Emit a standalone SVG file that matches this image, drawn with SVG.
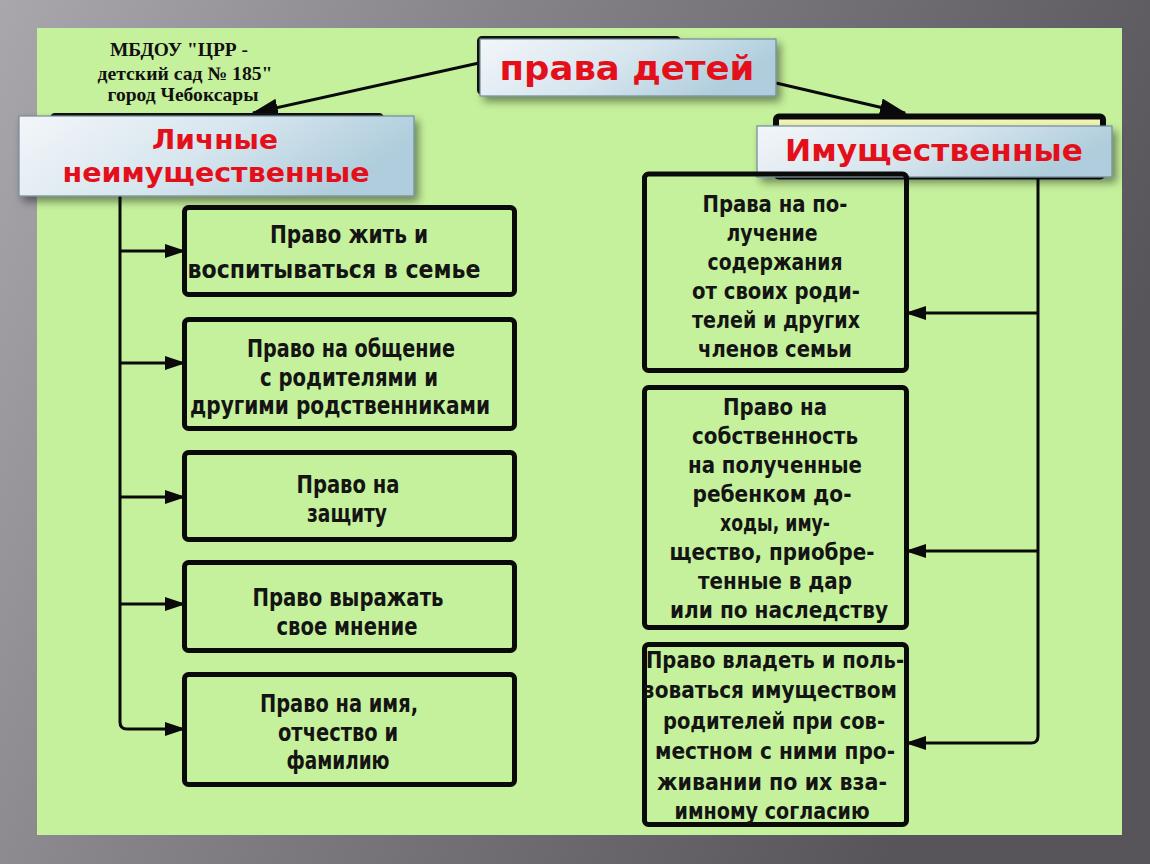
<svg xmlns="http://www.w3.org/2000/svg" width="1150" height="864" viewBox="0 0 1150 864">
<defs>
  <linearGradient id="bg" x1="0" y1="0" x2="1" y2="0.35">
    <stop offset="0" stop-color="#a9a7ac"/>
    <stop offset="0.4" stop-color="#858288"/>
    <stop offset="1" stop-color="#58555a"/>
  </linearGradient>
  <linearGradient id="hdr" x1="0" y1="0" x2="1" y2="0.3">
    <stop offset="0" stop-color="#f3f6f9"/>
    <stop offset="0.55" stop-color="#d6e5ee"/>
    <stop offset="1" stop-color="#afcddc"/>
  </linearGradient>
  <filter id="sh" x="-10%" y="-20%" width="125%" height="160%">
    <feDropShadow dx="4" dy="5" stdDeviation="4" flood-color="#000" flood-opacity="0.45"/>
  </filter>
  <marker id="ar" markerUnits="userSpaceOnUse" markerWidth="22" markerHeight="14" refX="17" refY="7" orient="auto">
    <path d="M0,0 L21,7 L0,14 z" fill="#0a0a0a"/>
  </marker>
  <marker id="arL" markerUnits="userSpaceOnUse" markerWidth="28" markerHeight="18" refX="25" refY="9" orient="auto">
    <path d="M0,0 L27,9 L0,18 z" fill="#0a0a0a"/>
  </marker>
  <style>
    .box { fill: none; stroke: #0a0a0a; stroke-width: 5; }
    .ln { fill: none; stroke: #0a0a0a; stroke-width: 3; }
    .hb { fill: url(#hdr); stroke: #6e8b9b; stroke-width: 1.2; filter: url(#sh); }
    .red { fill: #e3101b; font-family: "DejaVu Sans", "Liberation Sans", sans-serif; font-weight: bold; text-anchor: middle; }
    .tl { font-family: "DejaVu Sans Condensed", "DejaVu Sans", sans-serif; font-stretch: condensed; font-weight: bold; fill: #141414; text-anchor: middle; }
    .L { font-size: 24px; }
    .R { font-size: 23px; }
    .org { font-family: "Liberation Serif", serif; font-weight: bold; font-size: 19px; fill: #111; text-anchor: middle; }
  </style>
</defs>

<rect x="0" y="0" width="1150" height="864" fill="url(#bg)"/>
<rect x="37" y="28" width="1085" height="807" fill="#c6f19c"/>

<g id="org">
  <text class="org" x="179" y="56" textLength="138" lengthAdjust="spacingAndGlyphs">МБДОУ "ЦРР -</text>
  <text class="org" x="185" y="80" textLength="175" lengthAdjust="spacingAndGlyphs">детский сад № 185"</text>
  <text class="org" x="183" y="101" textLength="151" lengthAdjust="spacingAndGlyphs">город Чебоксары</text>
</g>

<g id="connectors">
  <path class="ln" d="M479,63 L253,113" marker-end="url(#arL)"/>
  <path class="ln" d="M776,83 L905,113" marker-end="url(#arL)"/>
  <path class="ln" d="M120,196 V722 Q120,729 127,729 H182" marker-end="url(#ar)"/>
  <path class="ln" d="M120,251 H182" marker-end="url(#ar)"/>
  <path class="ln" d="M120,363 H182" marker-end="url(#ar)"/>
  <path class="ln" d="M120,497 H182" marker-end="url(#ar)"/>
  <path class="ln" d="M120,604 H182" marker-end="url(#ar)"/>
  <path class="ln" d="M1038,176 V736 Q1038,743 1031,743 H909" marker-end="url(#ar)"/>
  <path class="ln" d="M1038,313 H909" marker-end="url(#ar)"/>
  <path class="ln" d="M1038,551 H909" marker-end="url(#ar)"/>
</g>

<g id="root">
  <rect x="479" y="38" width="200" height="55" rx="3" fill="#c6f19c" stroke="#111" stroke-width="4"/>
  <rect class="hb" x="480" y="39" width="296" height="57"/>
  <text class="red" x="627" y="80" font-size="34" textLength="255" lengthAdjust="spacingAndGlyphs">права детей</text>
</g>

<g id="personal">
  <rect x="52" y="115" width="330" height="78" rx="3" fill="#c6f19c" stroke="#111" stroke-width="4"/>
  <rect class="hb" x="19" y="116" width="395" height="80"/>
  <text class="red" x="215" y="149" font-size="26" textLength="126" lengthAdjust="spacingAndGlyphs">Личные</text>
  <text class="red" x="216" y="182" font-size="26" textLength="307" lengthAdjust="spacingAndGlyphs">неимущественные</text>
</g>

<g id="property">
  <rect x="776" y="116.5" width="327" height="60" rx="3" fill="#f2f4b4" stroke="#0a0a0a" stroke-width="6"/>
  <rect class="hb" x="757" y="126" width="355" height="51"/>
  <text class="red" x="934" y="161" font-size="30" textLength="298" lengthAdjust="spacingAndGlyphs">Имущественные</text>
</g>

<g id="l1">
  <rect class="box" x="184.5" y="207.5" width="330" height="87" rx="4"/>
  <text class="tl L" x="349" y="243" textLength="158" lengthAdjust="spacingAndGlyphs">Право жить и</text>
  <text class="tl L" x="334" y="278" textLength="293" lengthAdjust="spacingAndGlyphs">воспитываться в семье</text>
</g>
<g id="l2">
  <rect class="box" x="184.5" y="319.5" width="330" height="109" rx="4"/>
  <text class="tl L" x="351" y="357" textLength="208" lengthAdjust="spacingAndGlyphs">Право на общение</text>
  <text class="tl L" x="349" y="386" textLength="178" lengthAdjust="spacingAndGlyphs">с родителями и</text>
  <text class="tl L" x="340" y="414" textLength="300" lengthAdjust="spacingAndGlyphs">другими родственниками</text>
</g>
<g id="l3">
  <rect class="box" x="184.5" y="452.5" width="330" height="87" rx="4"/>
  <text class="tl L" x="348" y="493" textLength="103" lengthAdjust="spacingAndGlyphs">Право на</text>
  <text class="tl L" x="347" y="522" textLength="80" lengthAdjust="spacingAndGlyphs">защиту</text>
</g>
<g id="l4">
  <rect class="box" x="184.5" y="562.5" width="330" height="88" rx="4"/>
  <text class="tl L" x="348" y="606" textLength="191" lengthAdjust="spacingAndGlyphs">Право выражать</text>
  <text class="tl L" x="347" y="635" textLength="141" lengthAdjust="spacingAndGlyphs">свое мнение</text>
</g>
<g id="l5">
  <rect class="box" x="184.5" y="674.5" width="330" height="110" rx="4"/>
  <text class="tl L" x="339" y="712" textLength="158" lengthAdjust="spacingAndGlyphs">Право на имя,</text>
  <text class="tl L" x="338" y="741" textLength="120" lengthAdjust="spacingAndGlyphs">отчество и</text>
  <text class="tl L" x="338" y="769" textLength="103" lengthAdjust="spacingAndGlyphs">фамилию</text>
</g>

<g id="r1">
  <rect class="box" x="644.5" y="174" width="262" height="196.5" rx="4"/>
  <text class="tl R" x="775" y="212" textLength="145" lengthAdjust="spacingAndGlyphs">Права на по-</text>
  <text class="tl R" x="772" y="241" textLength="91" lengthAdjust="spacingAndGlyphs">лучение</text>
  <text class="tl R" x="775" y="270" textLength="135" lengthAdjust="spacingAndGlyphs">содержания</text>
  <text class="tl R" x="776" y="299" textLength="168" lengthAdjust="spacingAndGlyphs">от своих роди-</text>
  <text class="tl R" x="776" y="328" textLength="168" lengthAdjust="spacingAndGlyphs">телей и других</text>
  <text class="tl R" x="775" y="357" textLength="154" lengthAdjust="spacingAndGlyphs">членов семьи</text>
</g>
<g id="r2">
  <rect class="box" x="644.5" y="387.5" width="262" height="240" rx="4"/>
  <text class="tl R" x="775" y="415" textLength="104" lengthAdjust="spacingAndGlyphs">Право на</text>
  <text class="tl R" x="775" y="444" textLength="166" lengthAdjust="spacingAndGlyphs">собственность</text>
  <text class="tl R" x="775" y="473" textLength="174" lengthAdjust="spacingAndGlyphs">на полученные</text>
  <text class="tl R" x="772" y="502" textLength="159" lengthAdjust="spacingAndGlyphs">ребенком до-</text>
  <text class="tl R" x="775" y="531" textLength="110" lengthAdjust="spacingAndGlyphs">ходы, иму-</text>
  <text class="tl R" x="772" y="560" textLength="205" lengthAdjust="spacingAndGlyphs">щество, приобре-</text>
  <text class="tl R" x="775" y="589" textLength="154" lengthAdjust="spacingAndGlyphs">тенные в дар</text>
  <text class="tl R" x="779" y="618" textLength="218" lengthAdjust="spacingAndGlyphs">или по наследству</text>
</g>
<g id="r3">
  <rect class="box" x="644.5" y="644.5" width="262" height="180" rx="4"/>
  <text class="tl R" x="775" y="668" textLength="258" lengthAdjust="spacingAndGlyphs">Право владеть и поль-</text>
  <text class="tl R" x="770" y="698" textLength="254" lengthAdjust="spacingAndGlyphs">зоваться имуществом</text>
  <text class="tl R" x="774" y="729" textLength="222" lengthAdjust="spacingAndGlyphs">родителей при сов-</text>
  <text class="tl R" x="775" y="759" textLength="240" lengthAdjust="spacingAndGlyphs">местном с ними про-</text>
  <text class="tl R" x="772" y="790" textLength="230" lengthAdjust="spacingAndGlyphs">живании по их вза-</text>
  <text class="tl R" x="772" y="819" textLength="195" lengthAdjust="spacingAndGlyphs">имному согласию</text>
</g>
</svg>
